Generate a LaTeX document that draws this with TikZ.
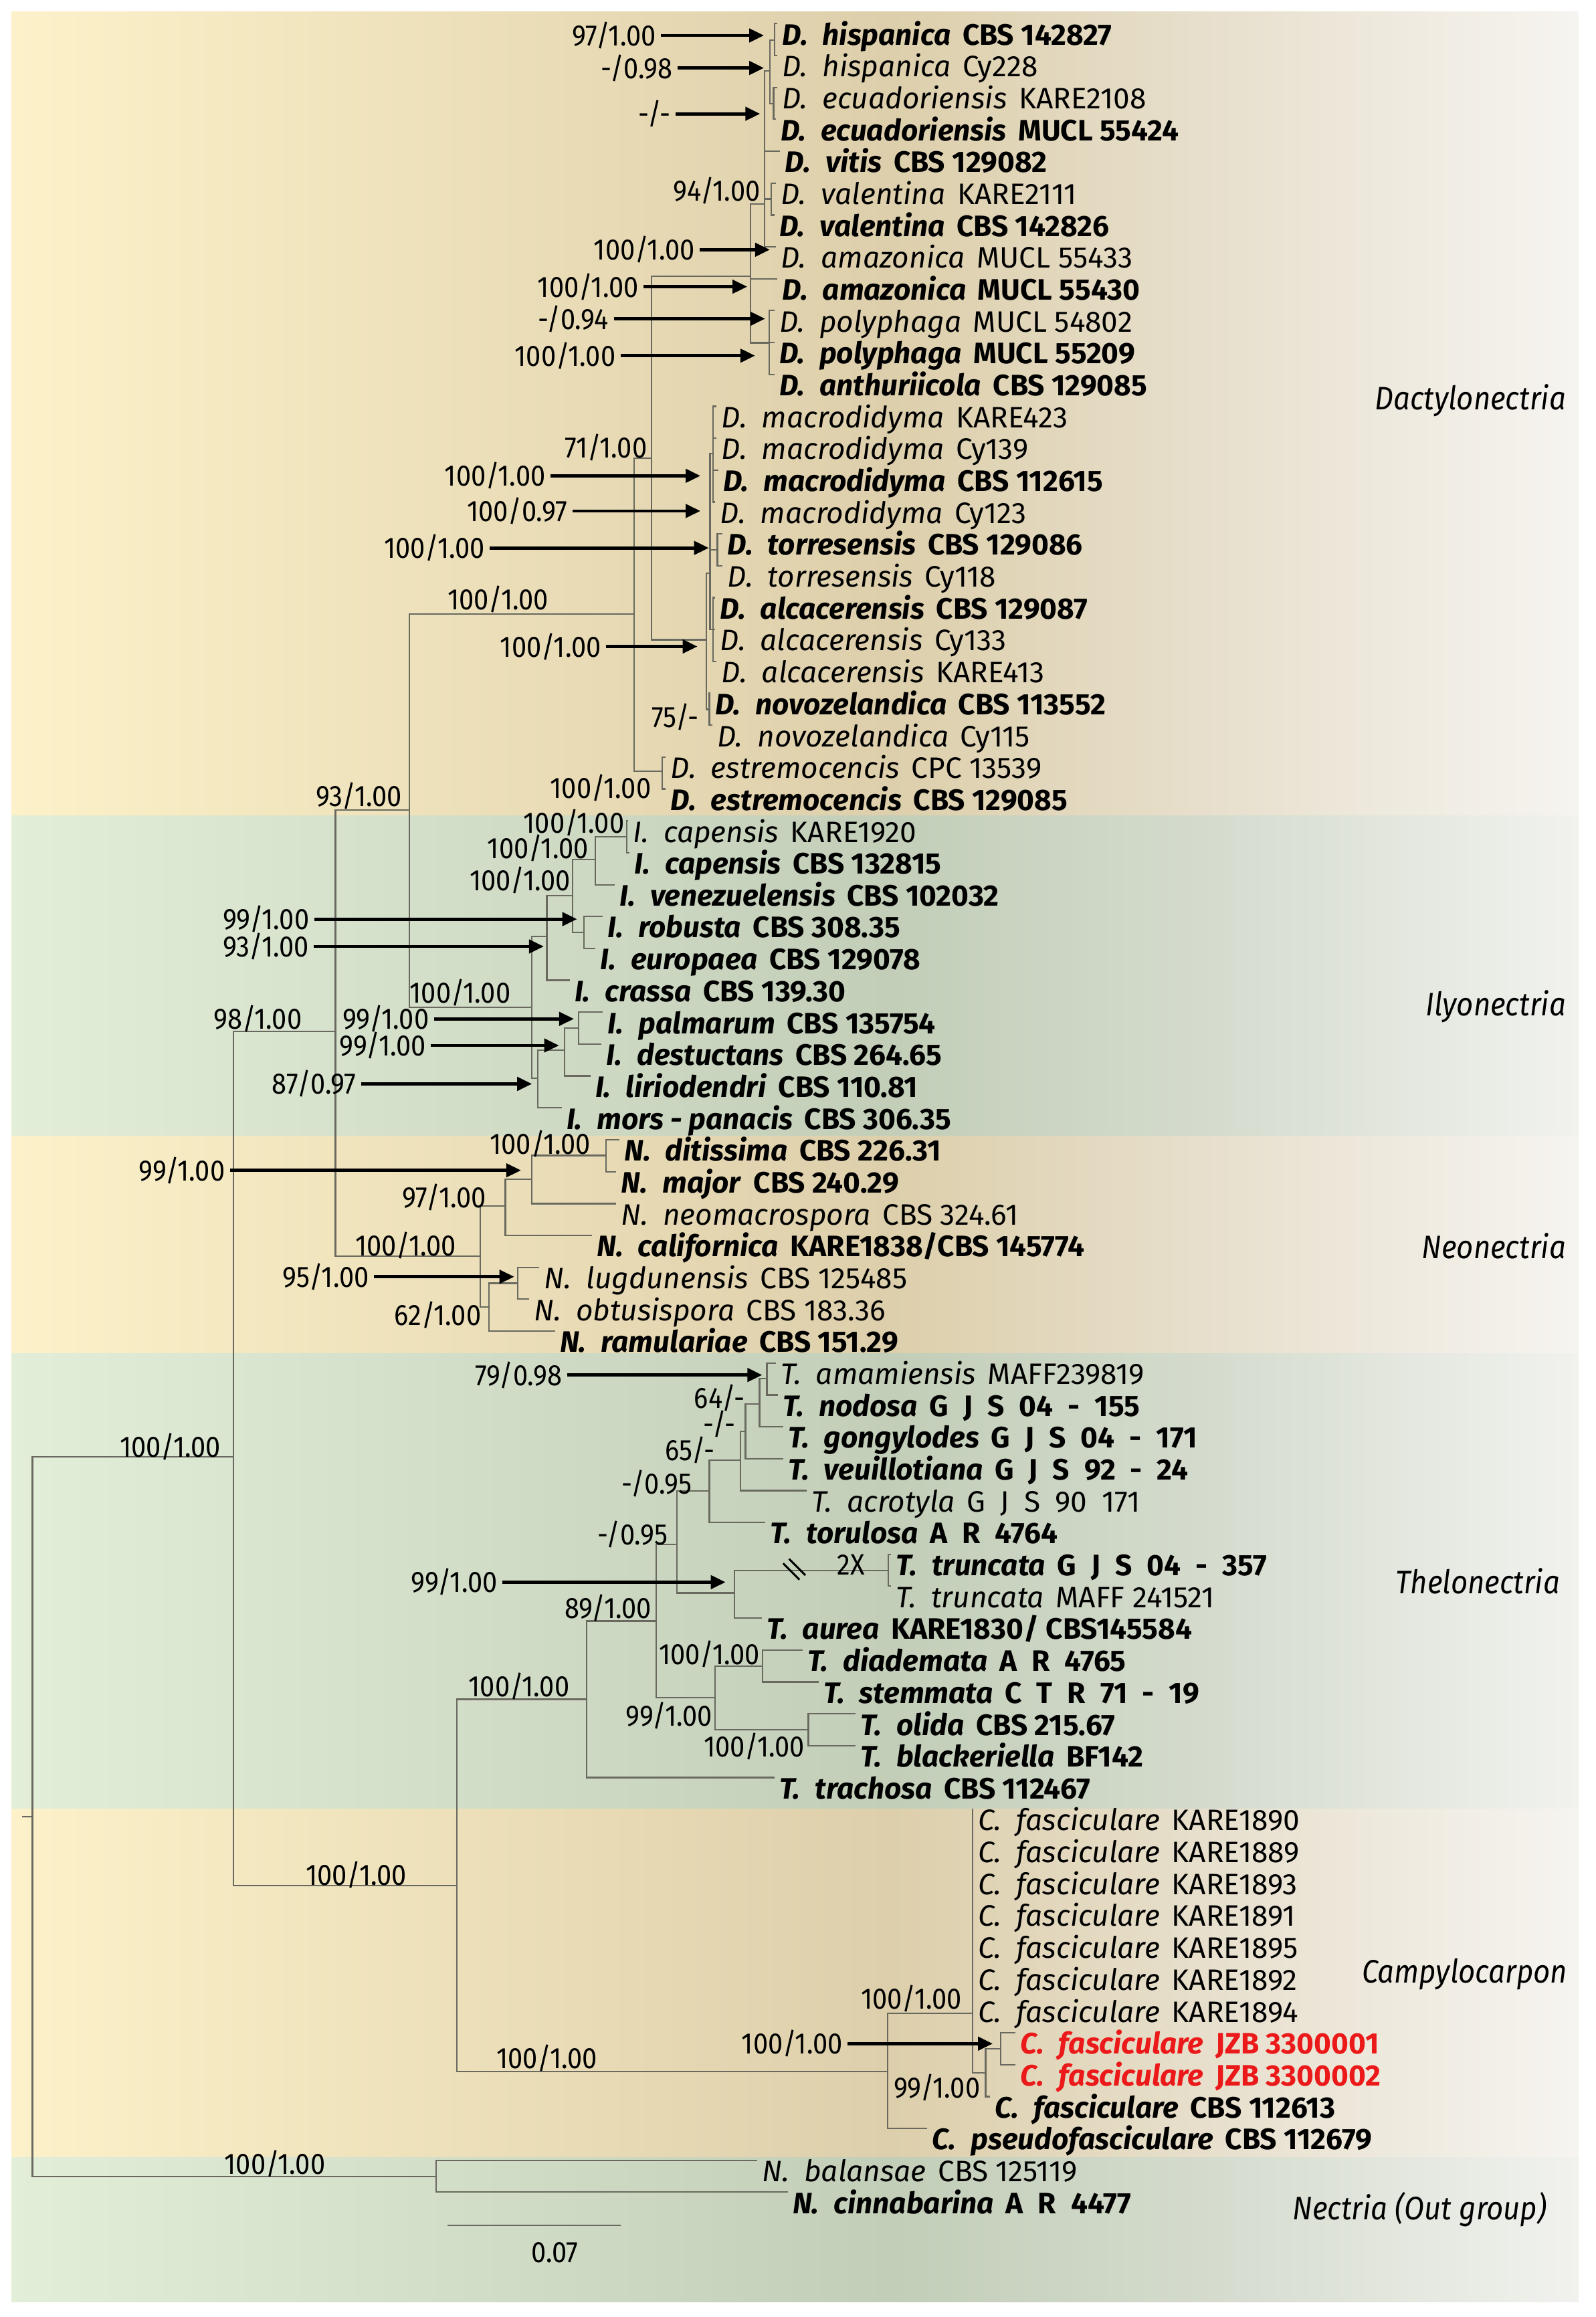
\documentclass[tikz,border=0pt]{standalone}
\usepackage{fontspec}
\setmainfont{Fira Sans}
\newfontfamily\numfont{Fira Sans}[FakeStretch=0.9]
\usetikzlibrary{arrows.meta}

\definecolor{ylA}{RGB}{252,241,201}
\definecolor{ylB}{RGB}{221,207,171}
\definecolor{ylC}{RGB}{231,223,204}
\definecolor{ylD}{RGB}{246,244,240}
\definecolor{grA}{RGB}{226,238,216}
\definecolor{grB}{RGB}{194,206,184}
\definecolor{grC}{RGB}{212,219,205}
\definecolor{grD}{RGB}{241,242,238}
\definecolor{branch}{RGB}{105,105,95}
\definecolor{jzbred}{RGB}{235,25,25}

\pgfdeclarehorizontalshading{yband}{100bp}{color(0bp)=(ylA); color(25bp)=(ylA); color(53bp)=(ylB); color(63bp)=(ylC); color(75bp)=(ylD); color(100bp)=(ylD)}
\pgfdeclarehorizontalshading{gband}{100bp}{color(0bp)=(grA); color(25bp)=(grA); color(53bp)=(grB); color(63bp)=(grC); color(75bp)=(grD); color(100bp)=(grD)}

\newcommand{\taxon}[3]{\textit{#1\hspace{5pt}#2}\hspace{4pt}#3}
\newcommand{\gs}{\hspace{5pt}}

\begin{document}
\begin{tikzpicture}
  [x=0.5pt,y=-0.5pt,
   br/.style={draw=branch,line width=0.5pt},
   arr/.style={-{Triangle[length=5pt,width=4.5pt]},line width=1.1pt},
   lf/.style={anchor=north west,inner xsep=1.5pt,inner ysep=0pt,text height=7pt,text depth=2pt,font=\fontsize{10}{12}\selectfont},
   blf/.style={lf,font=\fontsize{10}{12}\selectfont\bfseries},
   bs/.style={inner xsep=1.5pt,inner ysep=0.3pt,font=\numfont\fontsize{10}{12}\selectfont},
   grp/.style={anchor=east,inner sep=0pt,font=\numfont\fontsize{11}{13}\selectfont\itshape}]
  \useasboundingbox (0,0) rectangle (1080,1568);
  \fill[white] (0,0) rectangle (1080,1568);

  % clade bands
  \shade[shading=yband] (8,8) rectangle (1068,552);
  \shade[shading=gband] (8,552) rectangle (1068,768.7);
  \shade[shading=yband] (8,768.7) rectangle (1068,916);
  \shade[shading=gband] (8,916) rectangle (1068,1224);
  \shade[shading=yband] (8,1224) rectangle (1068,1460);
  \shade[shading=gband] (8,1460) rectangle (1068,1558);

  % taxa
  \node[blf] (t1) at (526,16.0) {\taxon{D.}{hispanica}{CBS 142827}};
  \node[lf] (t2) at (526,37.6) {\taxon{D.}{hispanica}{Cy228}};
  \node[lf] (t3) at (526,59.2) {\taxon{D.}{ecuadoriensis}{KARE2108}};
  \node[blf] (t4) at (525,80.7) {\taxon{D.}{ecuadoriensis}{MUCL 55424}};
  \node[blf] (t5) at (528,102.3) {\taxon{D.}{vitis}{CBS 129082}};
  \node[lf] (t6) at (525,123.9) {\taxon{D.}{valentina}{KARE2111}};
  \node[blf] (t7) at (524,145.5) {\taxon{D.}{valentina}{CBS 142826}};
  \node[lf] (t8) at (525,167.1) {\taxon{D.}{amazonica}{MUCL 55433}};
  \node[blf] (t9) at (526,188.6) {\taxon{D.}{amazonica}{MUCL 55430}};
  \node[lf] (t10) at (524,210.2) {\taxon{D.}{polyphaga}{MUCL 54802}};
  \node[blf] (t11) at (524,231.8) {\taxon{D.}{polyphaga}{MUCL 55209}};
  \node[blf] (t12) at (524,253.4) {\taxon{D.}{anthuriicola}{CBS 129085}};
  \node[lf] (t13) at (485,275.0) {\taxon{D.}{macrodidyma}{KARE423}};
  \node[lf] (t14) at (485,296.5) {\taxon{D.}{macrodidyma}{Cy139}};
  \node[blf] (t15) at (486,318.1) {\taxon{D.}{macrodidyma}{CBS 112615}};
  \node[lf] (t16) at (484,339.7) {\taxon{D.}{macrodidyma}{Cy123}};
  \node[blf] (t17) at (489,361.3) {\taxon{D.}{torresensis}{CBS 129086}};
  \node[lf] (t18) at (489,382.9) {\taxon{D.}{torresensis}{Cy118}};
  \node[blf] (t19) at (484,404.4) {\taxon{D.}{alcacerensis}{CBS 129087}};
  \node[lf] (t20) at (484,426.0) {\taxon{D.}{alcacerensis}{Cy133}};
  \node[lf] (t21) at (485,447.6) {\taxon{D.}{alcacerensis}{KARE413}};
  \node[blf] (t22) at (480.5,469.2) {\taxon{D.}{novozelandica}{CBS 113552}};
  \node[lf] (t23) at (482,490.8) {\taxon{D.}{novozelandica}{Cy115}};
  \node[lf] (t24) at (450.5,512.3) {\taxon{D.}{estremocencis}{CPC 13539}};
  \node[blf] (t25) at (450.5,533.9) {\taxon{D.}{estremocencis}{CBS 129085}};
  \node[lf] (t26) at (425,555.5) {\taxon{I.}{capensis}{KARE1920}};
  \node[blf] (t27) at (426,577.1) {\taxon{I.}{capensis}{CBS 132815}};
  \node[blf] (t28) at (416,598.7) {\taxon{I.}{venezuelensis}{CBS 102032}};
  \node[blf] (t29) at (408,620.2) {\taxon{I.}{robusta}{CBS 308.35}};
  \node[blf] (t30) at (403,641.8) {\taxon{I.}{europaea}{CBS 129078}};
  \node[blf] (t31) at (385.5,663.4) {\taxon{I.}{crassa}{CBS 139.30}};
  \node[blf] (t32) at (408,685.0) {\taxon{I.}{palmarum}{CBS 135754}};
  \node[blf] (t33) at (407,706.6) {\taxon{I.}{destuctans}{CBS 264.65}};
  \node[blf] (t34) at (399.5,728.1) {\taxon{I.}{liriodendri}{CBS 110.81}};
  \node[blf] (t35) at (380,749.7) {\taxon{I.}{mors - panacis}{CBS 306.35}};
  \node[blf] (t36) at (419,771.3) {\taxon{N.}{ditissima}{CBS 226.31}};
  \node[blf] (t37) at (417,792.9) {\taxon{N.}{major}{CBS 240.29}};
  \node[lf] (t38) at (417,814.5) {\taxon{N.}{neomacrospora}{CBS 324.61}};
  \node[blf] (t39) at (400.5,836.0) {\taxon{N.}{californica}{KARE1838/CBS 145774}};
  \node[lf] (t40) at (365,857.6) {\taxon{N.}{lugdunensis}{CBS 125485}};
  \node[lf] (t41) at (358,879.2) {\taxon{N.}{obtusispora}{CBS 183.36}};
  \node[blf] (t42) at (375.5,900.8) {\taxon{N.}{ramulariae}{CBS 151.29}};
  \node[lf] (t43) at (525,922.4) {\taxon{T.}{amamiensis}{MAFF239819}};
  \node[blf] (t44) at (526.5,944.0) {\taxon{T.}{nodosa}{G\gs J\gs S\gs 04\gs -\gs 155}};
  \node[blf] (t45) at (530,965.5) {\taxon{T.}{gongylodes}{G\gs J\gs S\gs 04\gs -\gs 171}};
  \node[blf] (t46) at (530,987.1) {\taxon{T.}{veuillotiana}{G\gs J\gs S\gs 92\gs -\gs 24}};
  \node[lf] (t47) at (546,1008.7) {\taxon{T.}{acrotyla}{G\gs J\gs S\gs 90\gs 171}};
  \node[blf] (t48) at (518,1030.3) {\taxon{T.}{torulosa}{A\gs R\gs 4764}};
  \node[blf] (t49) at (603,1051.9) {\taxon{T.}{truncata}{G\gs J\gs S\gs 04\gs -\gs 357}};
  \node[lf] (t50) at (603,1073.4) {\taxon{T.}{truncata}{MAFF 241521}};
  \node[blf] (t51) at (515.5,1095.0) {\taxon{T.}{aurea}{KARE1830/ CBS145584}};
  \node[blf] (t52) at (543,1116.6) {\taxon{T.}{diademata}{A\gs R\gs 4765}};
  \node[blf] (t53) at (554,1138.2) {\taxon{T.}{stemmata}{C\gs T\gs R\gs 71\gs -\gs 19}};
  \node[blf] (t54) at (579,1159.8) {\taxon{T.}{olida}{CBS 215.67}};
  \node[blf] (t55) at (579,1181.3) {\taxon{T.}{blackeriella}{BF142}};
  \node[blf] (t56) at (524,1202.9) {\taxon{T.}{trachosa}{CBS 112467}};
  \foreach \i/\y/\s in {57/1224.5/KARE1890,58/1246.1/KARE1889,59/1267.7/KARE1893,60/1289.2/KARE1891,61/1310.8/KARE1895,62/1332.4/KARE1892,63/1354.0/KARE1894}
    \node[lf] (t\i) at (658.5,\y) {\taxon{C.}{fasciculare}{\s}};
  \node[blf,text=jzbred] (t64) at (687,1375.6) {\taxon{C.}{fasciculare}{JZB 3300001}};
  \node[blf,text=jzbred] (t65) at (687,1397.2) {\taxon{C.}{fasciculare}{JZB 3300002}};
  \node[blf] (t66) at (670,1418.8) {\taxon{C.}{fasciculare}{CBS 112613}};
  \node[blf] (t67) at (627.5,1440.3) {\taxon{C.}{pseudofasciculare}{CBS 112679}};
  \node[lf] (t68) at (512.5,1461.9) {\taxon{N.}{balansae}{CBS 125119}};
  \node[blf] (t69) at (533,1483.5) {\taxon{N.}{cinnabarina}{A\gs R\gs 4477}};

  % internal nodes
  \coordinate (rs) at (15,1229.5);
  \coordinate (r) at (22,1229.5);
  \coordinate (ing) at (158,986);
  \coordinate (out) at (295,1473);
  \coordinate (nA) at (227,698);
  \coordinate (nCT) at (309,1276);
  \coordinate (nB) at (277,548);
  \coordinate (nN) at (325,850);
  \coordinate (nD) at (429,415.6);
  \coordinate (nI) at (360,681.8);
  \coordinate (nD71) at (441,310);
  \coordinate (nDe) at (448,522);
  \coordinate (nD1) at (508,187);
  \coordinate (nDm) at (478,433);
  \coordinate (nD94) at (517.5,138);
  \coordinate (nDp) at (520.5,232);
  \coordinate (nDhe) at (521,48);
  \coordinate (nDh) at (524,27);
  \coordinate (nDec) at (523.5,70);
  \coordinate (nDv) at (522,134.7);
  \coordinate (nX) at (480.5,388);
  \coordinate (nDmm) at (482.5,307);
  \coordinate (nDt) at (485.5,372);
  \coordinate (nDa) at (482.5,426);
  \coordinate (nDn) at (480,480);
  \coordinate (nI1) at (370,633.8);
  \coordinate (nI2) at (364,729.8);
  \coordinate (nI3) at (387.5,606);
  \coordinate (nI4) at (403,581.8);
  \coordinate (nI5) at (395,631);
  \coordinate (nI6) at (424,566.3);
  \coordinate (nI7) at (382,710.6);
  \coordinate (nI8) at (391.6,695.8);
  \coordinate (nN1) at (342,816);
  \coordinate (nN2) at (331,884.6);
  \coordinate (nN3) at (360,798);
  \coordinate (nN4) at (410,782);
  \coordinate (nN5) at (350.5,868.4);
  \coordinate (nT) at (397,1150);
  \coordinate (nC) at (600.5,1402);
  \coordinate (nT89) at (444,1097);
  \coordinate (nT1) at (458,1045);
  \coordinate (nT2) at (484,1149);
  \coordinate (nT3) at (480,1009);
  \coordinate (nT4) at (497,1078);
  \coordinate (nT5) at (501,988);
  \coordinate (nT6) at (504.5,968.6);
  \coordinate (nT7) at (514,950);
  \coordinate (nT8) at (519,933);
  \coordinate (nT9) at (601,1062.7);
  \coordinate (nT10) at (516,1127.4);
  \coordinate (nT11) at (547,1170.5);
  \coordinate (nC1) at (658,1362.6);
  \coordinate (nC2) at (667,1402.6);
  \coordinate (nC3) at (677,1386.4);

  % branches
  \draw[br] (rs) -- (r);
  \foreach \p/\c in {r/ing,r/out,ing/nA,ing/nCT,nA/nB,nA/nN,nB/nD,nB/nI,
      nD/nD71,nD/nDe,nD71/nD1,nD71/nDm,nD1/nD94,nD1/nDp,nD94/nDhe,nD94/nDv,
      nDhe/nDh,nDhe/nDec,nDm/nX,nDm/nDn,nX/nDmm,nX/nDt,nX/nDa,
      nI/nI1,nI/nI2,nI1/nI3,nI3/nI4,nI3/nI5,nI4/nI6,nI2/nI7,nI7/nI8,
      nN/nN1,nN/nN2,nN1/nN3,nN3/nN4,nN2/nN5,
      nCT/nT,nCT/nC,nT/nT89,nT89/nT1,nT89/nT2,nT1/nT3,nT1/nT4,nT3/nT5,
      nT5/nT6,nT6/nT7,nT7/nT8,nT4/nT9,nT2/nT10,nT2/nT11,
      nC/nC1,nC1/nC2,nC2/nC3}
    \draw[br] (\p) |- (\c);
  \foreach \p/\i in {out/68,out/69,nDh/1,nDh/2,nDec/3,nDec/4,nD94/5,nDv/6,nDv/7,
      nD94/8,nD1/9,nDp/10,nDp/11,nDp/12,nDmm/13,nDmm/14,nDmm/15,nDmm/16,
      nDt/17,nDt/18,nDa/19,nDa/20,nDa/21,nDn/22,nDn/23,nDe/24,nDe/25,
      nI6/26,nI6/27,nI4/28,nI5/29,nI5/30,nI1/31,nI8/32,nI8/33,nI7/34,nI2/35,
      nN4/36,nN4/37,nN3/38,nN1/39,nN5/40,nN5/41,nN2/42,
      nT8/43,nT8/44,nT7/45,nT6/46,nT5/47,nT3/48,nT9/49,nT9/50,nT4/51,
      nT10/52,nT10/53,nT11/54,nT11/55,nT/56,
      nC1/57,nC1/58,nC1/59,nC1/60,nC1/61,nC1/62,nC1/63,nC3/64,nC3/65,nC2/66,nC/67}
    \draw[br] (\p) |- (t\i.north west);

  % cut branch
  \draw[line width=0.7pt] (530,1058) -- (541,1069) (534,1055) -- (545,1066);
  \node[bs] (twox) at (576,1059) {2X};

  % support values
  \node[bs] (s1) at (415.5,24) {97/1.00};
  \node[bs] (s2) at (431,46) {-/0.98};
  \node[bs] (s3) at (443,77) {-/-};
  \node[bs] (s4) at (485,129) {94/1.00};
  \node[bs] (s5) at (436,169) {100/1.00};
  \node[bs] (s6) at (398,194) {100/1.00};
  \node[bs] (s7) at (388,215.7) {-/0.94};
  \node[bs] (s8) at (382.5,240.7) {100/1.00};
  \node[bs] (s9) at (410,303) {71/1.00};
  \node[bs] (s10) at (335,322) {100/1.00};
  \node[bs] (s11) at (350,345.8) {100/0.97};
  \node[bs] (s12) at (294,370.8) {100/1.00};
  \node[bs] (s13) at (337,405.7) {100/1.00};
  \node[bs] (s14) at (372.6,437.5) {100/1.00};
  \node[bs] (s15) at (457,485.4) {75/-};
  \node[bs] (s16) at (406.5,533) {100/1.00};
  \node[bs] (s17) at (243,538.7) {93/1.00};
  \node[bs] (s18) at (388.4,556.7) {100/1.00};
  \node[bs] (s19) at (364,574) {100/1.00};
  \node[bs] (s20) at (352,595.7) {100/1.00};
  \node[bs] (s21) at (180,622) {99/1.00};
  \node[bs] (s22) at (180,640.5) {93/1.00};
  \node[bs] (s23) at (311.4,671.6) {100/1.00};
  \node[bs] (s24) at (174.4,689.5) {98/1.00};
  \node[bs] (s25) at (261,689.5) {99/1.00};
  \node[bs] (s26) at (259,707.5) {99/1.00};
  \node[bs] (s27) at (212.6,733.5) {87/0.97};
  \node[bs] (s28) at (365.6,774) {100/1.00};
  \node[bs] (s29) at (123,792) {99/1.00};
  \node[bs] (s30) at (300.6,810.3) {97/1.00};
  \node[bs] (s31) at (274.6,842.7) {100/1.00};
  \node[bs] (s32) at (220.5,864) {95/1.00};
  \node[bs] (s33) at (296.3,890) {62/1.00};
  \node[bs] (s34) at (115.2,979) {100/1.00};
  \node[bs] (s35) at (351,930.5) {79/0.98};
  \node[bs] (s36) at (487,946) {64/-};
  \node[bs] (s37) at (487,963.5) {-/-};
  \node[bs] (s38) at (467,981.5) {65/-};
  \node[bs] (s39) at (444.5,1004) {-/0.95};
  \node[bs] (s40) at (428,1038.5) {-/0.95};
  \node[bs] (s41) at (307.3,1070.7) {99/1.00};
  \node[bs] (s42) at (411.5,1088.3) {89/1.00};
  \node[bs] (s43) at (351.2,1141.3) {100/1.00};
  \node[bs] (s44) at (480,1119.5) {100/1.00};
  \node[bs] (s45) at (452.7,1161) {99/1.00};
  \node[bs] (s46) at (510.3,1182) {100/1.00};
  \node[bs] (s47) at (241,1268.7) {100/1.00};
  \node[bs] (s48) at (616.7,1352.5) {100/1.00};
  \node[bs] (s49) at (536,1383) {100/1.00};
  \node[bs] (s50) at (370,1393) {100/1.00};
  \node[bs] (s51) at (634,1412.5) {99/1.00};
  \node[bs] (s52) at (186,1464.5) {100/1.00};

  % arrows to nodes
  \coordinate (a1) at (517,24);
  \coordinate (a2) at (517,46);
  \coordinate (a3) at (514.4,77);
  \coordinate (a5) at (521,169);
  \coordinate (a6) at (505.7,194);
  \coordinate (a7) at (517.8,215.7);
  \coordinate (a8) at (511,240.7);
  \coordinate (a10) at (474,322);
  \coordinate (a11) at (474,345.8);
  \coordinate (a12) at (479.7,370.8);
  \coordinate (a14) at (472,437.5);
  \coordinate (a21) at (390.5,622);
  \coordinate (a22) at (368,640.5);
  \coordinate (a25) at (388.4,689.5);
  \coordinate (a26) at (378.3,707.5);
  \coordinate (a27) at (360,733.5);
  \coordinate (a29) at (352.6,792);
  \coordinate (a32) at (348,864);
  \coordinate (a35) at (515.8,930.5);
  \coordinate (a41) at (491,1070.7);
  \coordinate (a49) at (671.8,1383);
  \foreach \s in {1,2,3,5,6,7,8,10,11,12,14,21,22,25,26,27,29,32,35,41,49}
    \draw[arr] (s\s.east) -- (a\s);

  % clade names
  \node[grp] (gD) at (1060,271) {Dactylonectria};
  \node[grp] (gI) at (1060,681) {Ilyonectria};
  \node[grp] (gN) at (1060,843) {Neonectria};
  \node[grp] (gT) at (1056,1070) {Thelonectria};
  \node[grp] (gC) at (1061,1336) {Campylocarpon};
  \node[grp] (gO) at (1047,1495) {Nectria (Out group)};

  % scale bar
  \coordinate (sb1) at (303,1506);
  \coordinate (sb2) at (420,1506);
  \draw[br] (sb1) -- (sb2);
  \node[bs] (sbl) at (375.5,1524.5) {0.07};
\end{tikzpicture}
\end{document}
